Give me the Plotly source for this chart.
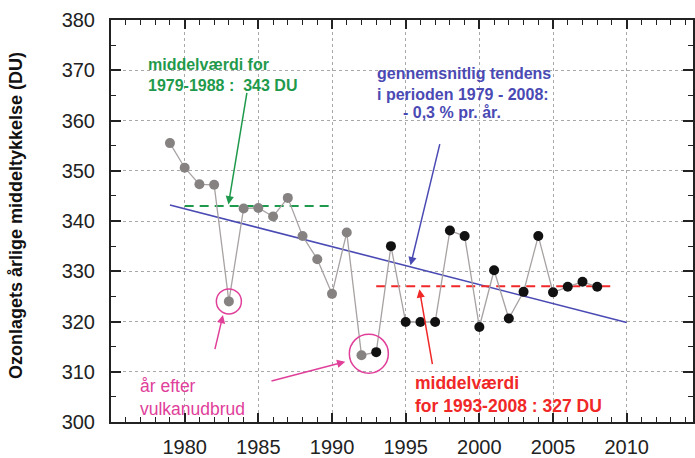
import plotly.graph_objects as go

years = list(range(1979, 2009))
ozone = [355.5, 350.6, 347.3, 347.2, 324.0, 342.5, 342.6, 340.9, 344.6, 337.0,
         332.4, 325.5, 337.7, 313.3, 313.9, 335.0, 319.9, 319.9, 319.9, 338.1,
         337.0, 318.9, 330.2, 320.6, 325.9, 337.0, 325.8, 326.9, 327.9, 326.9]
split_year = 1993

trend_years = [1979, 2010]
trend_values = [343.2, 319.8]
mean1_years = [1980, 1990]
mean1_value = 343
mean2_years = [1993, 2009]
mean2_value = 327
volcano_years = [1983, 1992, 1993]
x_tick_labels = [1980, 1985, 1990, 1995, 2000, 2005, 2010]

FONT = "Arial, Liberation Sans, sans-serif"
GREEN = "#1f9a4c"
BLUE = "#4a4ab4"
RED = "#f02828"
PINK = "#e0409a"

early = [(y, v) for y, v in zip(years, ozone) if y < split_year]
late = [(y, v) for y, v in zip(years, ozone) if y >= split_year]

fig = go.Figure()

# trend line
fig.add_trace(go.Scatter(x=trend_years, y=trend_values, mode="lines",
                         line=dict(color=BLUE, width=1.6), hoverinfo="skip"))
# mean lines
fig.add_trace(go.Scatter(x=mean1_years, y=[mean1_value] * 2, mode="lines",
                         line=dict(color=GREEN, width=2, dash="9px,6px")))
fig.add_trace(go.Scatter(x=mean2_years, y=[mean2_value] * 2, mode="lines",
                         line=dict(color=RED, width=2, dash="9px,6px")))
# connecting line
fig.add_trace(go.Scatter(x=years, y=ozone, mode="lines",
                         line=dict(color="#a8a2a2", width=1.3)))
# markers
fig.add_trace(go.Scatter(x=[p[0] for p in early], y=[p[1] for p in early], mode="markers",
                         marker=dict(color="#878282", size=10)))
fig.add_trace(go.Scatter(x=[p[0] for p in late], y=[p[1] for p in late], mode="markers",
                         marker=dict(color="#111111", size=10)))

# volcano circles
v83 = ozone[years.index(volcano_years[0])]
v92 = ozone[years.index(volcano_years[1])]
v93 = ozone[years.index(volcano_years[2])]
fig.add_trace(go.Scatter(x=[volcano_years[0]], y=[v83], mode="markers",
                         marker=dict(symbol="circle-open", size=25, color=PINK, line=dict(width=1.5))))
fig.add_trace(go.Scatter(x=[(volcano_years[1] + volcano_years[2]) / 2], y=[(v92 + v93) / 2],
                         mode="markers",
                         marker=dict(symbol="circle-open", size=39, color=PINK, line=dict(width=1.5))))


def arrow(x0, y0, x1, y1, color):
    fig.add_annotation(x=x1, y=y1, ax=x0, ay=y0, xref="x", yref="y", axref="x", ayref="y",
                       text="", showarrow=True, arrowhead=2, arrowsize=1.1,
                       arrowwidth=1.5, arrowcolor=color)


arrow(1984.24, 365.8, 1982.97, 343.3, GREEN)
arrow(1997.34, 355.6, 1995.33, 331.2, BLUE)
arrow(1996.83, 311.2, 1995.93, 326.4, RED)
arrow(1982.03, 314.2, 1982.6, 321.3, PINK)
arrow(1985.79, 308.1, 1990.9, 312.0, PINK)


def label(x, y, text, color, size=16):
    fig.add_annotation(x=x, y=y, xref="x", yref="y", text=text, showarrow=False,
                       xanchor="left", yanchor="middle", align="left",
                       font=dict(family=FONT, size=size, color=color))


label(1977.4, 369.0, "<b>middelværdi for<br>1979-1988 :  343 DU</b>", GREEN)
label(1992.95, 367.3, "<b>gennemsnitlig tendens<br>i perioden 1979 - 2008:</b>", BLUE)
label(1994.65, 361.6, "<b>- 0,3 % pr. år.</b>", BLUE)
label(1995.5, 305.4, "<b>middelværdi<br>for 1993-2008 : 327 DU</b>", RED, 17.5)
label(1976.85, 304.8, "år efter<br>vulkanudbrud", PINK, 17.5)

# y-axis title
fig.add_annotation(x=-0.163, y=341, xref="paper", yref="y",
                   text="<b>Ozonlagets årlige middeltykkelse (DU)</b>", showarrow=False,
                   textangle=-90, xanchor="center", yanchor="middle",
                   font=dict(family=FONT, size=18, color="#111111"))

fig.update_layout(
    width=695, height=458,
    margin=dict(l=111, r=0, t=20, b=29),
    paper_bgcolor="white", plot_bgcolor="white",
    showlegend=False,
    font=dict(family=FONT),
)
fig.update_xaxes(
    range=[1975, 2014.5], tickmode="array", tickvals=x_tick_labels,
    ticktext=[str(v) for v in x_tick_labels],
    ticks="inside", ticklen=9, tickwidth=1.5, tickcolor="#222",
    minor=dict(ticks="inside", ticklen=5, tickwidth=1.2, tickcolor="#222",
               tickmode="linear", tick0=1975, dtick=1, showgrid=False),
    showline=True, linecolor="#222", linewidth=2, mirror="ticks",
    showgrid=True, gridcolor="#a8a8a8", griddash="dot", gridwidth=1,
    tickfont=dict(family=FONT, size=20, color="#222"), ticklabelstandoff=6,
    zeroline=False,
)
fig.update_yaxes(
    range=[300, 380], tickmode="linear", tick0=300, dtick=10,
    ticks="inside", ticklen=10, tickwidth=1.5, tickcolor="#222",
    minor=dict(ticks="inside", ticklen=5, tickwidth=1.2, tickcolor="#222", dtick=5, showgrid=False),
    showline=True, linecolor="#222", linewidth=2, mirror="ticks",
    showgrid=True, gridcolor="#a8a8a8", griddash="dot", gridwidth=1,
    tickfont=dict(family=FONT, size=20, color="#222"), ticklabelstandoff=10,
    zeroline=False,
)

fig.write_html("out.html")
